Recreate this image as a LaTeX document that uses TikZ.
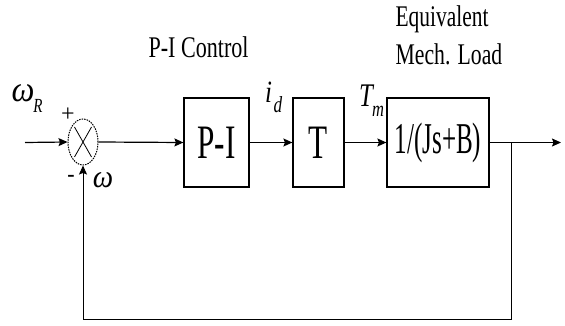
\documentclass[tikz,border=0pt]{standalone}
\usepackage{fontspec}
\setmainfont{Liberation Serif}
\usepackage{graphicx}
\usetikzlibrary{arrows.meta,shapes.geometric}
\newcommand\hsq[3]{\scalebox{#1}[1]{\fontsize{#2}{#2}\selectfont #3}}
\begin{document}
\begin{tikzpicture}[x=1pt,y=-1pt,line width=1.2pt,
  blk/.style={draw,inner sep=0pt,minimum height=89pt},
  arr/.style={-{Stealth[length=9pt,width=8pt,inset=1.5pt]}},
  lbl/.style={inner sep=0pt,anchor=base},
  lblw/.style={inner sep=0pt,anchor=base west}]
\useasboundingbox (0,0) rectangle (565,326);
% summing junction
\node[draw,ellipse,inner sep=0pt,minimum width=30pt,minimum height=46pt,
      line width=1pt,dash pattern=on 1.5pt off 1pt] (sum) at (83,142) {};
\draw[line width=0.8pt] (sum.center) ++(-8.5,-15) -- ++(17,30);
\draw[line width=0.8pt] (sum.center) ++(8.5,-15) -- ++(-17,30);
% blocks
\node[blk,minimum width=65pt] (pi) at (216.5,142.5) {\hsq{0.65}{48}{P-I}};
\node[blk,minimum width=51pt] (t) at (318.5,142.5) {\hsq{0.65}{48}{T}};
\node[blk,minimum width=102pt] (load) at (438,142.5) {\hsq{0.57}{44}{1/(Js+B)}};
% coordinates
\coordinate (in) at (25,142.5);
\coordinate (br) at (511,142.5);
\coordinate (out) at (561,142.5);
\coordinate (fb) at (511,319);
% connectors
\draw[arr] (in) -- (sum.west);
\draw[arr] (sum.east) -- (pi.west);
\draw[arr] (pi.east) -- (t.west);
\draw[arr] (t.east) -- (load.west);
\draw (load.east) -- (br);
\draw[arr] (br) -- (out);
\draw[arr,line width=1pt] (br) -- (fb) -| (sum.south);
% labels
\node[lbl] (wr) at (23,102) {\hsq{0.9}{36}{\itshape ω}};
\node[lbl] (wrs) at (38,113) {\hsq{0.75}{20}{\itshape R}};
\node[lbl] (plus) at (68,122) {\hsq{1}{24}{+}};
\node[lbl] (minus) at (71,182) {\hsq{1}{22}{\bfseries -}};
\node[lbl] (w) at (103,187) {\hsq{0.9}{32}{\itshape ω}};
\node[lbl] (id) at (268.5,103) {\hsq{0.8}{31}{\itshape i}};
\node[lbl] (ids) at (278,113) {\hsq{0.75}{23}{\itshape d}};
\node[lbl] (tm) at (366,107) {\hsq{0.75}{33}{\itshape T}};
\node[lbl] (tms) at (378,117) {\hsq{0.75}{22}{\itshape m}};
\node[lblw] (pic) at (148,58) {\hsq{0.736}{30}{P-I Control}};
\node[lblw] (eq1) at (395,27) {\hsq{0.715}{30}{Equivalent}};
\node[lblw] (eq2) at (395,65) {\hsq{0.724}{30}{Mech. Load}};
\end{tikzpicture}
\end{document}
